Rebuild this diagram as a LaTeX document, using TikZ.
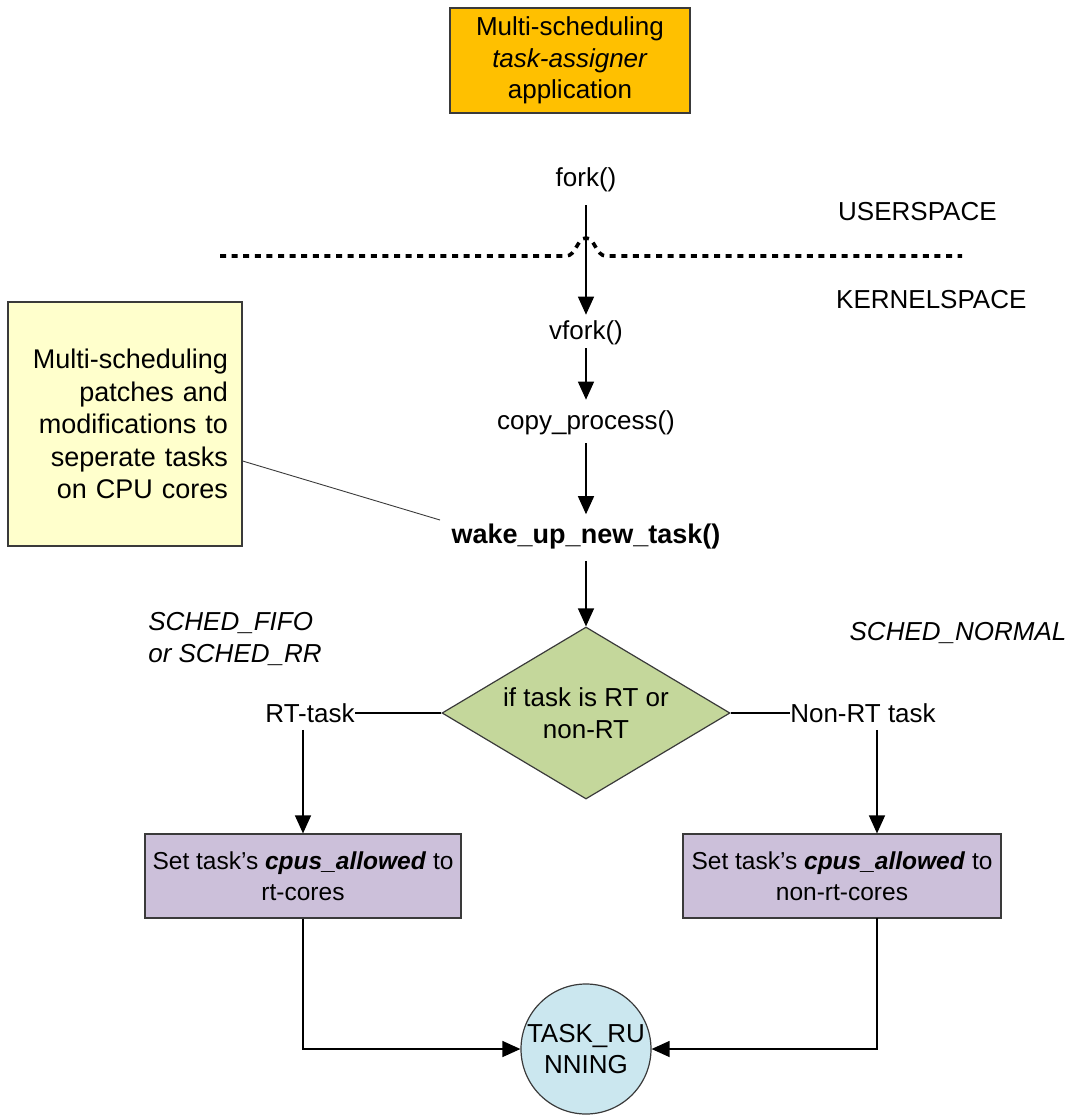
\documentclass[tikz,border=0pt]{standalone}
\usepackage{fontspec}
\setmainfont{Liberation Sans}
\usetikzlibrary{arrows.meta,shapes.geometric}
\definecolor{appfill}{HTML}{FFC000}
\definecolor{notefill}{HTML}{FFFFCC}
\definecolor{decfill}{HTML}{C4D79B}
\definecolor{setfill}{HTML}{CCC0DA}
\definecolor{runfill}{HTML}{CBE7EF}
\definecolor{edge}{HTML}{3A3A3A}
\begin{document}
\begin{tikzpicture}[x=1pt,y=-1pt,
  every node/.style={font=\fontsize{26}{31.5}\selectfont, inner sep=0pt},
  lbl/.style={text=black},
  boxstyle/.style={draw=edge, line width=1.2pt},
  setbox/.style={boxstyle, fill=setfill, minimum height=84pt, align=center,
                 font=\fontsize{24.5}{31}\selectfont},
  flow/.style={line width=1.3pt, -{Triangle[width=16pt,length=18pt]}},
  plain/.style={line width=1.3pt},
  boundary/.style={line width=3.6pt, dash pattern=on 6pt off 5.6pt, line cap=butt}
]
\useasboundingbox (0,0) rectangle (1075,1120);

% application box
\node[boxstyle, fill=appfill, minimum width=240pt, minimum height=105pt, align=center]
  (app) at (570,60.5) {Multi-scheduling\\ \textit{task-assigner}\\ application};

% user/kernel boundary with a hump where the call crosses it
\draw[boundary] (220,256) -- (566,256) .. controls (576,256) and (577,238) .. (586,238)
  .. controls (595,238) and (596,256) .. (606,256) -- (962,256);
\node[lbl, anchor=west] (user) at (838,212) {USERSPACE};
\node[lbl, anchor=west] (kernel) at (836,300) {KERNELSPACE};

% call chain
\node[lbl] (fork) at (586,180) {fork()};
\node[lbl] (vfork) at (586,333) {vfork()};
\node[lbl] (copy) at (586,423) {copy\_process()};
\node[lbl, font=\fontsize{27}{31.5}\selectfont\bfseries] (wake) at (586,537) {wake\_up\_new\_task()};

\draw[flow, shorten <=13pt, shorten >=6pt] (fork) -- (vfork);
\draw[flow, shorten <=3pt, shorten >=11pt] (vfork) -- (copy);
\draw[flow, shorten <=8pt, shorten >=10pt] (copy) -- (wake);

% note box about the scheduler patches
\node[boxstyle, fill=notefill, minimum width=234pt, minimum height=244pt,
      align=right, font=\fontsize{27}{32.5}\selectfont, text width=206pt]
  (note) at (125,424) {Multi-scheduling\\ patches and\\ modifications to\\ seperate tasks\\ on CPU cores};
\coordinate (lead) at (440,520);
\draw[line width=0.9pt, edge] ([yshift=-37pt]note.east) -- (lead);

% decision
\node[diamond, boxstyle, fill=decfill, aspect=1.67, minimum width=288pt, minimum height=172pt,
      align=center] (dec) at (586,713) {if task is RT or\\ non-RT};
\draw[flow, shorten <=11pt] (wake) -- (dec.north);

\node[lbl, align=left, font=\fontsize{26}{32}\selectfont\itshape] (fifo) at (235,639)
  {SCHED\_FIFO\\ or SCHED\_RR};
\node[lbl, font=\fontsize{26}{31.5}\selectfont\itshape] (normal) at (958,633) {SCHED\_NORMAL};

\node[lbl] (rt) at (310,713) {RT-task};
\node[lbl] (nrt) at (863,713) {Non-RT task};
\draw[plain] (dec.west) -- (rt.east);
\draw[plain] (dec.east) -- (nrt.west);

% affinity boxes
\node[setbox, minimum width=316pt]
  (lset) at (303,876) {Set task’s \textbf{\textit{cpus\_allowed}} to\\ rt-cores};
\node[setbox, minimum width=318pt]
  (rset) at (842,876) {Set task’s \textbf{\textit{cpus\_allowed}} to\\ non-rt-cores};
\coordinate (rdrop) at (877,918);
\draw[flow, shorten <=7pt] (rt.south -| lset.north) -- (lset.north);
\draw[flow, shorten <=7pt] (nrt.south -| rdrop) -- (rdrop |- rset.north);

% final state
\node[circle, boxstyle, fill=runfill, minimum size=130pt, align=center]
  (run) at (586,1049) {TASK\_RU\\ NNING};
\draw[flow] (lset.south) |- (run.west);
\draw[flow] (rdrop) |- (run.east);
\end{tikzpicture}
\end{document}
